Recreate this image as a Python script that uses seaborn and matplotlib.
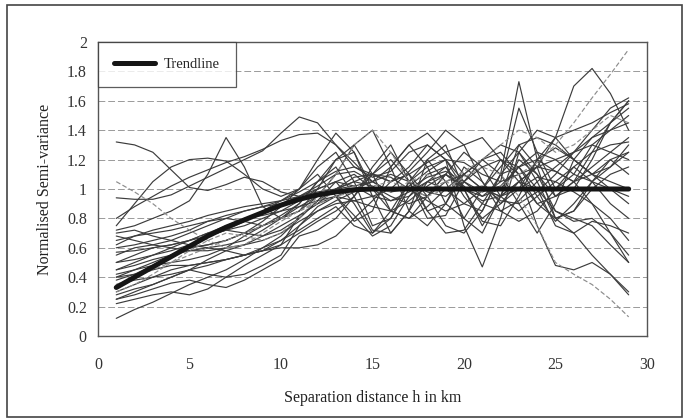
import numpy as np
import pandas as pd
import matplotlib
matplotlib.use("Agg")
import matplotlib.pyplot as plt
import seaborn as sns
from matplotlib.patches import Rectangle

# separation distance (km)
dist = list(range(1, 30))

# trendline
trend = [0.33, 0.40, 0.47, 0.54, 0.61, 0.68, 0.74, 0.79, 0.84, 0.89,
         0.93, 0.96, 0.98, 0.995, 1.0, 1.0, 1.0, 1.0, 1.0, 1.0,
         1.0, 1.0, 1.0, 1.0, 1.0, 1.0, 1.0, 1.0, 1.0]

# individual normalised semi-variograms
s01 = [1.32, 1.30, 1.25, 1.13, 1.01, 0.99, 1.03, 1.08, 1.05, 0.98,
       0.95, 1.02, 1.10, 1.12, 1.05, 0.98, 1.00, 1.08, 1.12, 1.05,
       0.98, 1.02, 1.15, 1.20, 1.12, 1.05, 1.10, 1.20, 1.25]
s02 = [0.72, 0.75, 0.80, 0.85, 0.92, 1.10, 1.35, 1.15, 0.88, 0.80,
       0.85, 1.00, 1.20, 1.25, 0.95, 0.70, 0.85, 1.20, 1.30, 1.00,
       0.75, 0.95, 1.30, 1.15, 0.80, 0.85, 1.05, 1.20, 1.10]
s03 = [0.94, 0.93, 0.93, 0.96, 1.02, 1.08, 1.14, 1.20, 1.26, 1.38,
       1.49, 1.45, 1.30, 1.15, 1.08, 1.12, 1.25, 1.30, 1.20, 1.05,
       0.95, 1.00, 1.15, 1.25, 1.20, 1.10, 1.05, 1.15, 1.30]
s04 = [0.75, 0.90, 1.05, 1.15, 1.20, 1.21, 1.19, 1.10, 1.00, 0.95,
       1.00, 1.15, 1.25, 1.05, 0.75, 0.80, 1.05, 1.20, 1.05, 0.80,
       0.70, 0.95, 1.20, 1.10, 0.85, 0.78, 0.80, 0.70, 0.55]
s05 = [0.80, 0.88, 0.95, 1.02, 1.08, 1.13, 1.18, 1.22, 1.27, 1.33,
       1.37, 1.38, 1.30, 1.18, 1.05, 0.98, 1.02, 1.12, 1.20, 1.18,
       1.10, 1.05, 1.10, 1.15, 1.12, 1.05, 0.90, 0.70, 0.50]
s06 = [0.12, 0.18, 0.23, 0.29, 0.35, 0.40, 0.45, 0.52, 0.60, 0.68,
       0.80, 0.92, 1.00, 1.05, 1.02, 0.95, 0.90, 0.95, 1.05, 1.10,
       1.00, 0.95, 1.05, 1.15, 1.20, 1.25, 1.35, 1.45, 1.55]
s07 = [1.05, 0.98, 0.90, 0.80, 0.72, 0.65, 0.60, 0.62, 0.70, 0.78,
       0.85, 0.90, 0.95, 0.98, 1.02, 1.05, 1.00, 0.95, 1.00, 1.08,
       1.15, 1.10, 0.95, 0.75, 0.50, 0.42, 0.35, 0.25, 0.13]
s08 = [0.45, 0.50, 0.55, 0.58, 0.62, 0.68, 0.72, 0.75, 0.80, 0.85,
       0.92, 1.00, 1.05, 1.02, 0.95, 0.92, 0.98, 1.05, 1.00, 0.90,
       0.85, 1.10, 1.73, 1.20, 0.95, 1.05, 1.25, 1.45, 1.60]
s09 = [0.40, 0.45, 0.50, 0.55, 0.60, 0.62, 0.65, 0.70, 0.75, 0.82,
       0.90, 1.05, 1.20, 1.30, 1.10, 0.85, 0.80, 0.95, 1.10, 1.00,
       0.95, 1.05, 1.55, 1.25, 1.00, 1.10, 1.30, 1.40, 1.50]
s10 = [0.55, 0.60, 0.62, 0.65, 0.70, 0.75, 0.80, 0.85, 0.88, 0.90,
       0.95, 1.00, 1.05, 1.10, 1.00, 0.92, 0.95, 1.05, 1.10, 1.00,
       0.92, 0.95, 1.05, 1.15, 1.35, 1.70, 1.82, 1.65, 1.40]
s11 = [0.35, 0.40, 0.45, 0.50, 0.55, 0.60, 0.65, 0.70, 0.75, 0.80,
       0.85, 0.92, 0.98, 1.02, 1.00, 0.98, 1.05, 1.10, 1.05, 1.00,
       0.98, 1.02, 1.10, 1.18, 1.30, 1.45, 1.62, 1.78, 1.95]
s12 = [0.30, 0.35, 0.40, 0.45, 0.48, 0.50, 0.52, 0.55, 0.58, 0.62,
       0.82, 0.90, 1.00, 1.08, 1.10, 1.05, 1.15, 1.30, 1.20, 0.75,
       0.47, 0.80, 1.25, 1.40, 1.35, 1.20, 1.10, 1.00, 0.95]
s13 = [0.50, 0.55, 0.60, 0.62, 0.65, 0.68, 0.72, 0.78, 0.85, 0.92,
       1.00, 1.10, 0.95, 0.78, 0.85, 1.15, 1.30, 1.15, 0.90, 0.80,
       1.00, 1.20, 1.10, 0.75, 0.48, 0.45, 0.50, 0.42, 0.30]
s14 = [0.60, 0.62, 0.65, 0.68, 0.72, 0.78, 0.82, 0.85, 0.88, 0.92,
       0.98, 1.05, 1.12, 1.15, 1.10, 1.05, 1.10, 1.18, 1.25, 1.30,
       1.35, 1.20, 1.05, 0.90, 0.80, 0.70, 0.55, 0.42, 0.28]
s15 = [0.25, 0.30, 0.35, 0.40, 0.45, 0.42, 0.40, 0.42, 0.48, 0.55,
       0.75, 0.88, 0.95, 1.00, 1.05, 1.10, 1.05, 0.98, 0.95, 1.05,
       1.15, 1.20, 1.15, 1.00, 0.85, 0.80, 0.75, 0.62, 0.50]
s16 = [0.65, 0.68, 0.70, 0.72, 0.75, 0.78, 0.80, 0.78, 0.75, 0.80,
       0.90, 1.05, 1.15, 0.95, 0.72, 0.70, 0.85, 1.05, 1.15, 0.95,
       0.80, 0.90, 1.05, 1.00, 0.75, 0.70, 0.78, 0.75, 0.70]
s17 = [0.38, 0.42, 0.48, 0.55, 0.60, 0.62, 0.65, 0.70, 0.78, 0.88,
       1.00, 1.20, 1.38, 1.25, 1.00, 0.85, 0.80, 0.88, 1.00, 1.10,
       1.20, 1.30, 1.25, 1.10, 0.95, 1.00, 1.20, 1.45, 1.60]
s18 = [0.28, 0.32, 0.35, 0.40, 0.45, 0.52, 0.58, 0.62, 0.65, 0.70,
       0.78, 0.85, 0.90, 0.92, 0.95, 1.00, 1.12, 1.25, 1.40, 1.30,
       1.05, 0.90, 1.00, 1.20, 1.35, 1.40, 1.45, 1.52, 1.58]
s19 = [0.42, 0.45, 0.48, 0.50, 0.52, 0.55, 0.60, 0.68, 0.75, 0.80,
       0.85, 0.95, 1.10, 1.30, 1.40, 1.15, 0.85, 0.75, 0.90, 1.10,
       1.20, 1.10, 0.90, 0.70, 0.90, 1.20, 1.35, 1.40, 1.45]
s20 = [0.22, 0.25, 0.28, 0.30, 0.28, 0.32, 0.40, 0.48, 0.55, 0.62,
       0.70, 0.78, 0.85, 0.95, 1.15, 1.30, 1.05, 0.80, 0.82, 1.05,
       1.20, 1.25, 1.10, 0.90, 0.95, 1.05, 1.15, 1.25, 1.35]
s21 = [0.35, 0.38, 0.40, 0.42, 0.45, 0.48, 0.52, 0.55, 0.58, 0.60,
       0.60, 0.62, 0.68, 0.80, 0.92, 1.05, 1.10, 0.95, 0.75, 0.70,
       0.85, 1.10, 1.25, 1.05, 0.80, 0.85, 1.00, 1.10, 1.15]
s22 = [0.68, 0.65, 0.62, 0.60, 0.58, 0.58, 0.60, 0.62, 0.68, 0.75,
       0.82, 0.90, 0.95, 0.92, 0.88, 0.85, 0.92, 1.02, 1.10, 1.02,
       0.90, 0.85, 0.92, 1.05, 1.15, 1.25, 1.30, 1.25, 1.20]
s23 = [0.57, 0.58, 0.60, 0.62, 0.65, 0.70, 0.72, 0.70, 0.68, 0.72,
       0.80, 0.92, 1.05, 0.90, 0.70, 0.80, 1.00, 0.95, 1.10, 1.25,
       1.15, 0.95, 0.85, 0.95, 1.05, 1.15, 1.05, 0.90, 0.80]
s24 = [0.45, 0.48, 0.52, 0.55, 0.58, 0.60, 0.58, 0.55, 0.58, 0.65,
       0.75, 0.85, 0.92, 0.98, 1.10, 1.25, 1.10, 0.85, 0.90, 1.15,
       1.05, 0.85, 0.78, 0.85, 1.00, 1.15, 1.25, 1.30, 1.32]
s25 = [0.30, 0.35, 0.42, 0.50, 0.58, 0.65, 0.70, 0.68, 0.65, 0.70,
       0.80, 0.95, 1.10, 1.30, 1.40, 1.25, 1.05, 1.00, 1.05, 1.12,
       1.20, 1.30, 1.40, 1.35, 1.25, 1.30, 1.40, 1.50, 1.45]
s26 = [0.62, 0.68, 0.72, 0.75, 0.78, 0.82, 0.85, 0.88, 0.90, 0.92,
       0.95, 0.98, 1.00, 1.02, 1.05, 1.15, 1.30, 1.38, 1.25, 1.10,
       1.00, 0.95, 1.00, 1.08, 1.05, 0.98, 0.90, 0.80, 0.65]
s27 = [0.40, 0.42, 0.45, 0.48, 0.48, 0.50, 0.52, 0.55, 0.60, 0.65,
       0.72, 0.80, 0.88, 0.75, 0.70, 0.85, 1.05, 1.15, 1.20, 1.00,
       0.78, 0.75, 0.95, 1.20, 1.28, 1.20, 1.10, 1.15, 1.25]
s28 = [0.25, 0.28, 0.32, 0.36, 0.38, 0.35, 0.33, 0.38, 0.45, 0.52,
       0.68, 0.72, 0.80, 0.95, 1.10, 1.20, 1.05, 0.85, 0.70, 0.72,
       0.90, 1.10, 1.15, 0.95, 0.78, 0.90, 1.05, 1.00, 0.90]
s29 = [0.70, 0.72, 0.68, 0.65, 0.62, 0.60, 0.62, 0.65, 0.72, 0.80,
       0.88, 0.95, 1.00, 1.05, 1.10, 1.08, 1.00, 0.92, 0.85, 0.90,
       1.00, 1.15, 1.30, 1.35, 1.30, 1.20, 1.10, 1.05, 1.00]
s30 = [0.50, 0.52, 0.55, 0.60, 0.65, 0.70, 0.75, 0.80, 0.82, 0.85,
       0.88, 0.92, 0.95, 0.82, 0.68, 0.75, 0.95, 1.10, 1.15, 1.00,
       1.02, 0.92, 0.90, 0.98, 1.10, 1.25, 1.40, 1.55, 1.62]

dark = [s01, s02, s03, s04, s05, s06, s08, s09, s10, s12, s13, s14, s15,
        s16, s17, s18, s19, s20, s21, s22, s23, s24, s26, s27, s28, s29, s30]
light = [s07, s11, s25]

sns.set_style("white")
plt.rcParams['font.family'] = ['Liberation Serif', 'DejaVu Serif']

fig = plt.figure(figsize=(6.85, 4.2), dpi=100)
ax = fig.add_axes([0.143, 0.2, 0.8015, 0.7])

# dashed horizontal gridlines
for g in np.arange(0.2, 2.0, 0.2):
    ax.axhline(g, color='#9a9a9a', lw=0.7, ls=(0, (7, 3)), zorder=0)

for s in dark:
    sns.lineplot(x=dist, y=s, ax=ax, color='#3c3c3c', lw=0.85, legend=False)
for s in light:
    sns.lineplot(x=dist, y=s, ax=ax, color='#8c8c8c', lw=0.85,
                 ls=(0, (4, 2)), legend=False)

sns.lineplot(x=dist, y=trend, ax=ax, color='#151515', lw=3.6,
             label='Trendline', zorder=5)

ax.set_xlim(0, 30)
ax.set_ylim(0, 2)
ax.set_xticks(range(0, 31, 5))
ax.set_yticks(np.arange(0, 2.01, 0.2))
ax.set_yticklabels(['0', '0.2', '0.4', '0.6', '0.8', '1', '1.2', '1.4',
                    '1.6', '1.8', '2'])
ax.tick_params(axis='both', direction='in', length=3, labelsize=11.5,
               colors='#333333')
ax.tick_params(axis='x', pad=15)
ax.tick_params(axis='y', pad=8)
for sp in ax.spines.values():
    sp.set_color('#555555')
    sp.set_linewidth(1.0)

ax.set_xlabel('Separation distance h in km', fontsize=11.5, color='#222222',
              labelpad=12)
ax.set_ylabel('Normalised Semi-variance', fontsize=11.5, color='#222222',
              labelpad=10)

leg = ax.legend(loc='upper left', bbox_to_anchor=(0, 1), borderaxespad=0,
                frameon=True, fancybox=False, fontsize=10.5,
                handlelength=2.8, handletextpad=0.6, borderpad=1.1)
leg.get_frame().set_edgecolor('#333333')
leg.get_frame().set_linewidth(0.9)

# outer frame round the whole figure
fig.patches.append(Rectangle((0.01, 0.008), 0.985, 0.98, transform=fig.transFigure,
                             fill=False, edgecolor='#444444', lw=1.2))

fig.savefig('out.png', dpi=100)
